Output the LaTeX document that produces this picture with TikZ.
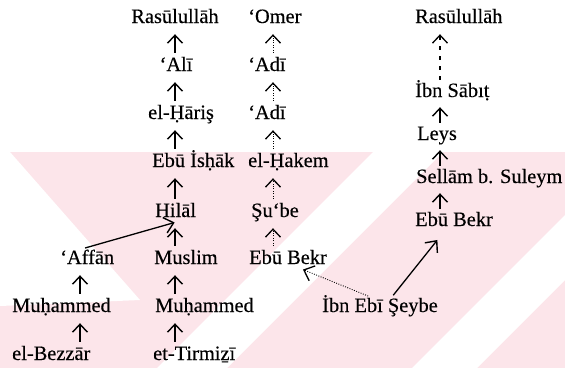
\documentclass[tikz,border=0pt]{standalone}
\usepackage{fontspec}
\setmainfont{Liberation Serif}
\newfontfamily\lblfont{Liberation Serif}[FakeBold=0.25]
\usetikzlibrary{arrows.meta,calc}
\definecolor{wmpink}{RGB}{252,229,234}
\begin{document}
\begin{tikzpicture}[x=1pt,y=-1pt,
  lbl/.style={inner sep=0pt, text height=15pt, text depth=5pt, font=\lblfont\fontsize{20.4}{24}\selectfont},
  wlbl/.style={lbl, anchor=west},
  sarrow/.style={line width=1.2pt, -{Straight Barb[length=8pt,width=15pt,line width=1.4pt]}},
  darrow/.style={line width=0.9pt, dash pattern=on 0.9pt off 1.5pt, -{Straight Barb[length=8pt,width=15pt,line width=1.3pt]}},
  dasharrow/.style={line width=1.2pt, dash pattern=on 4pt off 6pt, -{Straight Barb[length=8pt,width=15pt,line width=1.3pt]}},
  bigarrow/.style={line width=1.3pt, -{Straight Barb[length=9pt,width=16pt,line width=1.4pt]}},
  dotbig/.style={line width=0.9pt, dash pattern=on 0.9pt off 1.5pt, -{Straight Barb[length=9pt,width=16pt,line width=1.3pt]}},
  vshort/.style={shorten <=3pt, shorten >=6pt}
]
\useasboundingbox (0,0) rectangle (565,368);
% watermark background
\fill[wmpink] (0,152) rectangle (565,368);
\begin{scope}
  \clip (0,152) rectangle (565,368);
  \fill[white] (373,152) -- (443,152) -- (227,368) -- (157,368) -- cycle;
  \fill[white] (628,152) -- (693,152) -- (477,368) -- (412,368) -- cycle;
  \fill[white] (0,152) -- (10,152) -- (140,300) -- (0,306) -- cycle;
\end{scope}
% column coordinates
\coordinate (c0) at (80,0);
\coordinate (c1) at (175,0);
\coordinate (c2) at (273,0);
\coordinate (c3) at (440,0);
% column 1
\node[lbl] (rasul1) at (175,18) {Rasūlullāh};
\node[lbl] (ali) at (176,66) {‘Alī};
\node[wlbl] (haris) at (148,114) {el-Ḥāriş};
\node[wlbl] (ebuishak) at (152,162) {Ebū İsḥāk};
\node[wlbl] (hilal) at (155,212) {Hilāl};
\node[wlbl] (muslim) at (154,259) {Muslim};
\node[wlbl] (muhammedb) at (155,307) {Muḥammed};
\node[wlbl] (tirmizi) at (153,355) {et-Tirmiẕī};
% column 2
\node[wlbl] (omer) at (248,18) {‘Omer};
\node[wlbl] (adia) at (248,66) {‘Adī};
\node[wlbl] (adib) at (248,114) {‘Adī};
\node[wlbl] (hakem) at (248,162) {el-Ḥakem};
\node[wlbl] (shube) at (251,212) {Şu‘be};
\node[wlbl] (ebubekrb) at (249,259) {Ebū Bekr};
% column 3
\node[wlbl] (rasul3) at (415,18) {Rasūlullāh};
\node[wlbl] (ibnsabit) at (415,92) {İbn Sābıṭ};
\node[wlbl] (leys) at (417,135) {Leys};
\node[wlbl] (sellam) at (416,178) {Sellām b. Suleym};
\node[wlbl] (ebubekrc) at (415,221) {Ebū Bekr};
% left column
\node[wlbl] (affan) at (60,259) {‘Affān};
\node[wlbl] (muhammeda) at (12,307) {Muḥammed};
\node[wlbl] (bezzar) at (12,355) {el-Bezzār};
% ibn ebi seybe
\node[wlbl] (ibnebi) at (322,307) {İbn Ebī Şeybe};
% column 1 arrows
\draw[sarrow,vshort] (ali.north -| c1) -- (rasul1.south -| c1);
\draw[sarrow,vshort] (haris.north -| c1) -- (ali.south -| c1);
\draw[sarrow,vshort] (ebuishak.north -| c1) -- (haris.south -| c1);
\draw[sarrow,vshort] (hilal.north -| c1) -- (ebuishak.south -| c1);
\draw[sarrow,vshort] (muslim.north -| c1) -- (hilal.south -| c1);
\draw[sarrow,vshort] (muhammedb.north -| c1) -- (muslim.south -| c1);
\draw[sarrow,vshort] (tirmizi.north -| c1) -- (muhammedb.south -| c1);
% column 2 arrows
\draw[darrow,vshort] (adia.north -| c2) -- (omer.south -| c2);
\draw[darrow,vshort] (adib.north -| c2) -- (adia.south -| c2);
\draw[darrow,vshort] (hakem.north -| c2) -- (adib.south -| c2);
\draw[darrow,vshort] (shube.north -| c2) -- (hakem.south -| c2);
\draw[darrow,vshort] (ebubekrb.north -| c2) -- (shube.south -| c2);
% column 3 arrows
\draw[dasharrow,shorten <=2pt,shorten >=6pt] (ibnsabit.north -| c3) -- (rasul3.south -| c3);
\draw[sarrow,shorten <=2pt,shorten >=5pt] (leys.north -| c3) -- (ibnsabit.south -| c3);
\draw[sarrow,shorten <=2pt,shorten >=5pt] (sellam.north -| c3) -- (leys.south -| c3);
\draw[sarrow,shorten <=2pt,shorten >=5pt] (ebubekrc.north -| c3) -- (sellam.south -| c3);
% left column arrows
\draw[sarrow,vshort] (muhammeda.north -| c0) -- (affan.south -| c0);
\draw[sarrow,vshort] (bezzar.north -| c0) -- (muhammeda.south -| c0);
% diagonal arrows
\draw[bigarrow,shorten <=3pt,shorten >=1pt] ($(affan.north)+(-5,0)$) -- (hilal.south);
\draw[dotbig,shorten <=2pt,shorten >=1pt] ($(ibnebi.north)+(-10,0)$) -- ($(ebubekrb.south)+(14,0)$);
\draw[bigarrow,shorten <=2pt,shorten >=1pt] ($(ibnebi.north)+(12,0)$) -- ($(ebubekrc.south -| c3)+(-2,8)$);
\end{tikzpicture}
\end{document}
